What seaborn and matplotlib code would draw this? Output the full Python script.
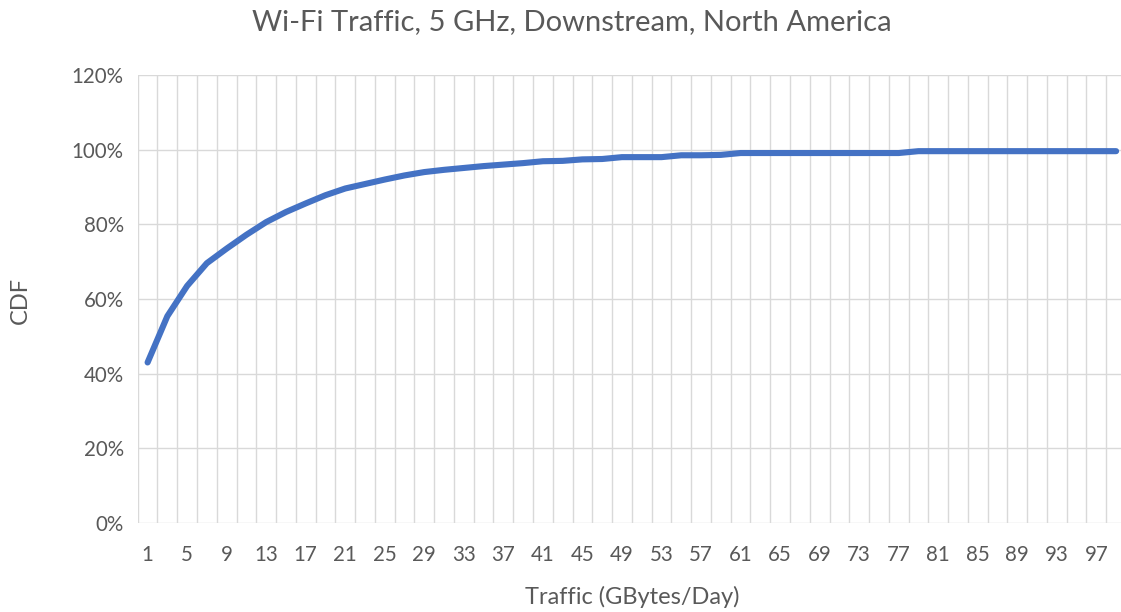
import numpy as np
import pandas as pd
import matplotlib
matplotlib.use("Agg")
import matplotlib.pyplot as plt
import seaborn as sns
from matplotlib.ticker import FuncFormatter

# ---- data ----
traffic = list(range(1, 100, 2))  # GBytes/Day categories 1,3,...,99
cdf = [43.0, 55.4, 63.5, 69.6, 73.5, 77.2, 80.6, 83.3, 85.6, 87.8,
       89.6, 90.8, 92.0, 93.1, 94.0, 94.6, 95.1, 95.6, 96.0, 96.4,
       96.9, 97.0, 97.4, 97.5, 98.0, 98.0, 98.0, 98.5, 98.5, 98.6,
       99.1, 99.1, 99.1, 99.1, 99.1, 99.1, 99.1, 99.1, 99.1, 99.6,
       99.6, 99.6, 99.6, 99.6, 99.6, 99.6, 99.6, 99.6, 99.6, 99.6]
tick_labels = list(range(1, 100, 4))
y_ticks = [0, 20, 40, 60, 80, 100, 120]

title = "Wi-Fi Traffic, 5 GHz, Downstream, North America"
xlabel = "Traffic (GBytes/Day)"
ylabel = "CDF"

df = pd.DataFrame({"traffic": traffic, "cdf": cdf})

sns.set_theme(style="white")
plt.rcParams['font.family'] = ['Lato', 'DejaVu Sans']

W, H = 1121, 612
fig = plt.figure(figsize=(W / 100, H / 100), dpi=100)
left, right, top, bottom = 137.7, 1126.0, 75.0, 523.0
ax = fig.add_axes([left / W, 1 - bottom / H, (right - left) / W, (bottom - top) / H])

grid_c = "#D9D9D9"
text_c = "#595959"

# gridlines
for gx in range(0, 101, 2):
    ax.axvline(gx, color=grid_c, lw=1.0, zorder=0)
for gy in y_ticks:
    ax.axhline(gy, color=grid_c, lw=1.0, zorder=0)

sns.lineplot(data=df, x="traffic", y="cdf", ax=ax, color="#4472C4",
             linewidth=4.4, solid_capstyle="round", solid_joinstyle="round", zorder=3)

ax.set_xlim(0, 100)
ax.set_ylim(0, 120)
ax.set_xticks(tick_labels)
ax.set_xticklabels([str(t) for t in tick_labels])
ax.set_yticks(y_ticks)
ax.yaxis.set_major_formatter(FuncFormatter(lambda v, p: f"{int(v)}%"))
ax.tick_params(axis="both", length=0, labelsize=14.8, colors=text_c)
ax.tick_params(axis="x", pad=16)
ax.tick_params(axis="y", pad=10)
for s in ax.spines.values():
    s.set_visible(False)

ax.set_xlabel("")
ax.set_ylabel("")
fig.text(632 / W, 1 - 597 / H, xlabel, ha="center", va="center",
         fontsize=17, color=text_c)
fig.text(20 / W, 1 - 300 / H, ylabel, rotation=90, ha="center", va="center",
         fontsize=17, color=text_c)
fig.text(572 / W, 1 - 22 / H, title, ha="center", va="center", fontsize=21, color=text_c)

fig.savefig("out.png", dpi=100, facecolor="white")
